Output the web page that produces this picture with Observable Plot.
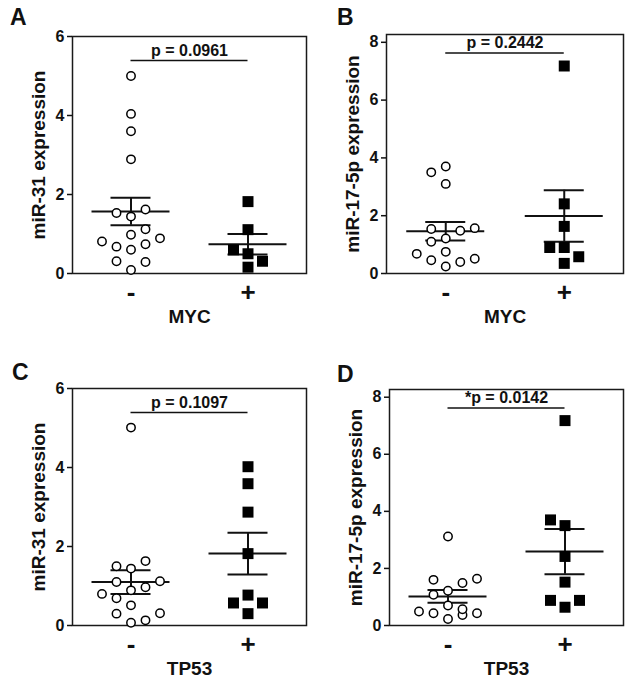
<!DOCTYPE html>
<html>
<head>
<meta charset="utf-8">
<script src="https://cdn.jsdelivr.net/npm/d3@7"></script>
<script src="https://cdn.jsdelivr.net/npm/@observablehq/plot@0.6"></script>
<style>
  html, body { margin: 0; padding: 0; background: #fff; }
  #root { position: relative; width: 634px; height: 688px; overflow: hidden;
          font-family: "Liberation Sans", Arial, sans-serif; color: #111; }
  .panel { position: absolute; }
  .letter { position: absolute; font-weight: bold; font-size: 23px; line-height: 23px; }
</style>
</head>
<body>
<div id="root"></div>
<script>
// ---------- data ----------
const groups = ["-", "+"];
const panelLetters = ["A", "B", "C", "D"];
const yLabels = ["miR-31 expression", "miR-17-5p expression", "miR-31 expression", "miR-17-5p expression"];
const genes = ["MYC", "MYC", "TP53", "TP53"];
const pLabels = ["p = 0.0961", "p = 0.2442", "p = 0.1097", "*p = 0.0142"];
const pLineY = [5.39, 7.63, 5.39, 7.62];
const yTicksMiR31 = [0, 2, 4, 6];
const yTicksMiR17 = [0, 2, 4, 6, 8];

// expression values per group ("-" circles, "+" squares)
const negA = [0.09, 0.60, 0.98, 1.44, 2.89, 3.60, 4.04, 5.00, 0.31, 0.29, 0.68, 0.74, 1.53, 1.12, 1.62, 0.81, 0.89];
const posA = [0.16, 0.50, 1.11, 1.82, 0.60, 0.31];
const negB = [0.24, 0.75, 1.21, 3.10, 3.70, 0.46, 0.40, 3.50, 1.48, 1.10, 1.54, 1.57, 0.51, 0.68];
const posB = [0.35, 0.90, 1.63, 2.41, 7.18, 0.90, 0.58];
const negC = [0.07, 0.51, 0.89, 1.44, 5.01, 0.30, 0.13, 0.69, 0.97, 1.10, 0.31, 1.50, 1.63, 0.80, 1.12];
const posC = [0.30, 0.77, 1.82, 2.87, 3.59, 4.02, 0.57, 0.57];
const negD = [0.23, 0.70, 1.22, 3.12, 0.43, 0.37, 1.08, 1.49, 1.60, 1.64, 0.49, 0.43, 0.57];
const posD = [0.64, 1.52, 2.42, 3.50, 7.18, 3.70, 0.88, 0.88];

// mean and SEM shown by the bars [ "-", "+" ]
const meanA = [1.57, 0.74], semA = [0.35, 0.26];
const meanB = [1.46, 1.99], semB = [0.32, 0.89];
const meanC = [1.10, 1.82], semC = [0.30, 0.53];
const meanD = [1.02, 2.59], semD = [0.22, 0.79];

// ---------- layout ----------
const W = 317, H = 336, MR = 11, MB = 63;
const panels = [
  {left: 0,   top: 0,   ml: 72, mt: 36, ymax: 6,    ticks: yTicksMiR31, neg: negA, pos: posA, mean: meanA, sem: semA, lx: 10,  ly: 6},
  {left: 317, top: 0,   ml: 69, mt: 34, ymax: 8.27, ticks: yTicksMiR17, neg: negB, pos: posB, mean: meanB, sem: semB, lx: 337, ly: 6},
  {left: 0,   top: 352, ml: 72, mt: 36, ymax: 6,    ticks: yTicksMiR31, neg: negC, pos: posC, mean: meanC, sem: semC, lx: 12,  ly: 361},
  {left: 317, top: 352, ml: 72, mt: 37, ymax: 8.27, ticks: yTicksMiR17, neg: negD, pos: posD, mean: meanD, sem: semD, lx: 337, ly: 363}
];

// Prism-like scatter arrangement: points that would overlap vertically are moved to side slots
function swarm(values, pxPerUnit, T) {
  const placed = [];
  let nl = 0, nr = 0;
  return values.map(v => {
    const dist = s => Math.min(Infinity, ...placed.filter(p => p.slot === s).map(p => Math.abs(p.v - v) * pxPerUnit));
    const free = s => dist(s) >= T;
    let slot = null;
    if (free(0)) slot = 0;
    for (let k = 1; k <= 2 && slot === null; k++) {
      const order = nl <= nr ? [-k, k] : [k, -k];
      for (const s of order) if (free(s)) { slot = s; break; }
    }
    if (slot === null) {
      let best = 0, bd = -1;
      for (const s of [0, -1, 1, -2, 2]) { const d = dist(s); if (d > bd) { bd = d; best = s; } }
      slot = best;
    }
    placed.push({v, slot});
    if (slot < 0) nl++; else if (slot > 0) nr++;
    return slot;
  });
}

const root = document.getElementById("root");
const font = "'Liberation Sans', Arial, sans-serif";

panels.forEach((p, i) => {
  const plotH = H - p.mt - MB;
  const pxPerUnit = plotH / p.ymax;
  const step = (W - p.ml - MR) / 2;          // pixels per group unit
  const slotU = 14.5 / step, meanHalf = 39 / step, capHalf = 20 / step;

  const negSlots = swarm(p.neg, pxPerUnit, 12.3);
  const posSlots = swarm(p.pos, pxPerUnit, 12.3);
  const negRows = p.neg.map((v, j) => ({x: 0 + negSlots[j] * slotU, v}));
  const posRows = p.pos.map((v, j) => ({x: 1 + posSlots[j] * slotU, v}));
  const stats = groups.map((g, k) => ({g: k, mean: p.mean[k], sem: p.sem[k]}));

  const chart = Plot.plot({
    width: W, height: H,
    marginLeft: p.ml, marginRight: MR, marginTop: p.mt, marginBottom: MB,
    style: {fontFamily: font, background: "white", color: "#111", overflow: "visible"},
    x: {domain: [-0.5, groups.length - 0.5], axis: null},
    y: {domain: [0, p.ymax], axis: null},
    marks: [
      Plot.frame({stroke: "#1a1a1a", strokeWidth: 1.5}),
      Plot.axisY({ticks: p.ticks, tickSize: 5, tickPadding: 3, fontSize: 16, fontWeight: "bold", label: null, tickFormat: d => String(d), strokeWidth: 1.5}),
      Plot.axisX({ticks: groups.map((g, k) => k), tickFormat: k => groups[k], tickSize: 0, tickPadding: 9, fontSize: 26, fontWeight: "bold", label: null}),
      // mean and SEM
      Plot.ruleY(stats, {x1: d => d.g - meanHalf, x2: d => d.g + meanHalf, y: "mean", stroke: "#111", strokeWidth: 2}),
      Plot.ruleY(stats, {x1: d => d.g - capHalf, x2: d => d.g + capHalf, y: d => d.mean + d.sem, stroke: "#111", strokeWidth: 2}),
      Plot.ruleY(stats, {x1: d => d.g - capHalf, x2: d => d.g + capHalf, y: d => d.mean - d.sem, stroke: "#111", strokeWidth: 2}),
      Plot.ruleX(stats, {x: "g", y1: d => d.mean - d.sem, y2: d => d.mean + d.sem, stroke: "#111", strokeWidth: 2}),
      // significance bar
      Plot.ruleY([pLineY[i]], {x1: 0, x2: groups.length - 1, y: d => d, stroke: "#111", strokeWidth: 1.5}),
      Plot.text([pLabels[i]], {x: (groups.length - 1) / 2, y: () => pLineY[i], text: d => d, dy: -5, lineAnchor: "bottom", fontSize: 16, fontWeight: "bold", fill: "#111"}),
      // points
      Plot.dot(negRows, {x: "x", y: "v", r: 4.2, symbol: "circle", fill: "white", stroke: "#000", strokeWidth: 1.5}),
      Plot.dot(posRows, {x: "x", y: "v", r: 6.2, symbol: "square", fill: "#000", stroke: "none"}),
      // axis titles
      Plot.text([yLabels[i]], {frameAnchor: "left", text: d => d, rotate: -90, dx: -41, textAnchor: "middle", lineAnchor: "top", fontSize: 19, fontWeight: "bold", fill: "#111"}),
      Plot.text([genes[i]], {frameAnchor: "bottom", text: d => d, dy: 49, lineAnchor: "bottom", fontSize: 19, fontWeight: "bold", fill: "#111"})
    ]
  });
  chart.classList.add("panel");
  chart.style.left = p.left + "px";
  chart.style.top = p.top + "px";
  root.appendChild(chart);

  const letter = document.createElement("div");
  letter.className = "letter";
  letter.textContent = panelLetters[i];
  letter.style.left = p.lx + "px";
  letter.style.top = p.ly + "px";
  root.appendChild(letter);
});
</script>
</body>
</html>
